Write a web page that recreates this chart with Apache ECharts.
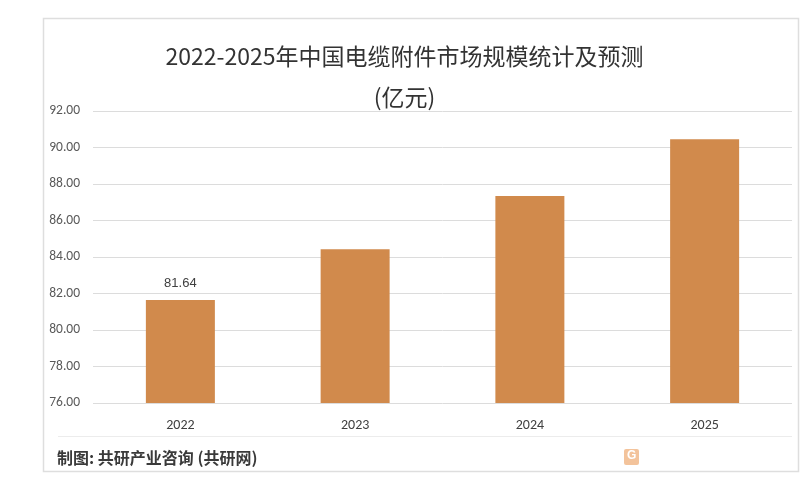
<!DOCTYPE html>
<html lang="zh">
  <head>
    <meta charset="UTF-8" />
    <title>电缆附件市场规模</title>
    <style>
      html, body { margin: 0; padding: 0; background: #fff; }
      .box { width: 809px; height: 482px; }
    </style>
  </head>
  <body>
    <div class="box"></div>
    <script src="https://cdn.jsdelivr.net/npm/echarts@6/dist/echarts.min.js"></script>
    <script>
      // 数据
      var years = ['2022', '2023', '2024', '2025'];
      var marketSize = [81.64, 84.42, 87.34, 90.45];
      var labelledYears = ['2022'];  // 只有第一根柱子标了数值

      var fontCn = '"Microsoft YaHei", "Noto Sans CJK SC", sans-serif';

      var myChart = echarts.init(document.querySelector('.box'));

      var barData = marketSize.map(function (v, i) {
        return {
          value: v,
          label: { show: labelledYears.indexOf(years[i]) > -1 }
        };
      });

      var option = {
        backgroundColor: '#fff',
        title: {
          text: '2022-2025年中国电缆附件市场规模统计及预测\n(亿元)',
          left: 'center',
          top: 31,
          textStyle: {
            fontFamily: fontCn,
            fontSize: 23,
            fontWeight: 'normal',
            color: '#333',
            lineHeight: 41
          }
        },
        grid: {
          left: 93,
          right: 17,
          top: 111,
          bottom: 79
        },
        xAxis: {
          type: 'category',
          data: years,
          axisLine: { show: false },
          axisTick: { show: false },
          axisLabel: {
            margin: 15,
            fontSize: 14,
            color: '#404040',
            fontFamily: 'Calibri, "Liberation Sans", sans-serif'
          }
        },
        yAxis: {
          type: 'value',
          min: 76,
          max: 92,
          interval: 2,
          axisLine: { show: false },
          axisTick: { show: false },
          splitLine: { lineStyle: { color: '#dcdcdc', width: 1 } },
          axisLabel: {
            margin: 13,
            fontSize: 13.5,
            color: '#595959',
            fontFamily: 'Calibri, "Liberation Sans", sans-serif',
            formatter: function (v) { return v.toFixed(2); }
          }
        },
        series: [
          {
            type: 'bar',
            data: barData,
            barWidth: 69,
            itemStyle: { color: '#D18A4C' },
            label: {
              position: 'top',
              distance: 10,
              fontSize: 13,
              color: '#404040',
              formatter: function (p) { return p.value.toFixed(2); }
            }
          }
        ],
        graphic: [
          {
            type: 'rect',
            shape: { x: 43.5, y: 18.5, width: 755, height: 453 },
            style: { fill: 'none', stroke: '#dedede', lineWidth: 1.5 },
            silent: true
          },
          {
            type: 'line',
            shape: { x1: 58, y1: 436.5, x2: 792, y2: 436.5 },
            style: { stroke: '#ececec', lineWidth: 1 },
            silent: true
          },
          {
            type: 'text',
            left: 57,
            top: 450,
            style: {
              text: '制图: 共研产业咨询 (共研网)',
              font: 'bold 16px ' + fontCn,
              fill: '#3a3a3a'
            }
          },
          {
            type: 'rect',
            shape: { x: 624, y: 449, width: 15, height: 16, r: 2 },
            style: { fill: '#F1B889', opacity: 0.85 },
            silent: true
          },
          {
            type: 'text',
            left: 627,
            top: 450,
            style: {
              text: 'G',
              font: 'bold 12px sans-serif',
              fill: '#fff'
            }
          }
        ]
      };

      myChart.setOption(option);
    </script>
  </body>
</html>
